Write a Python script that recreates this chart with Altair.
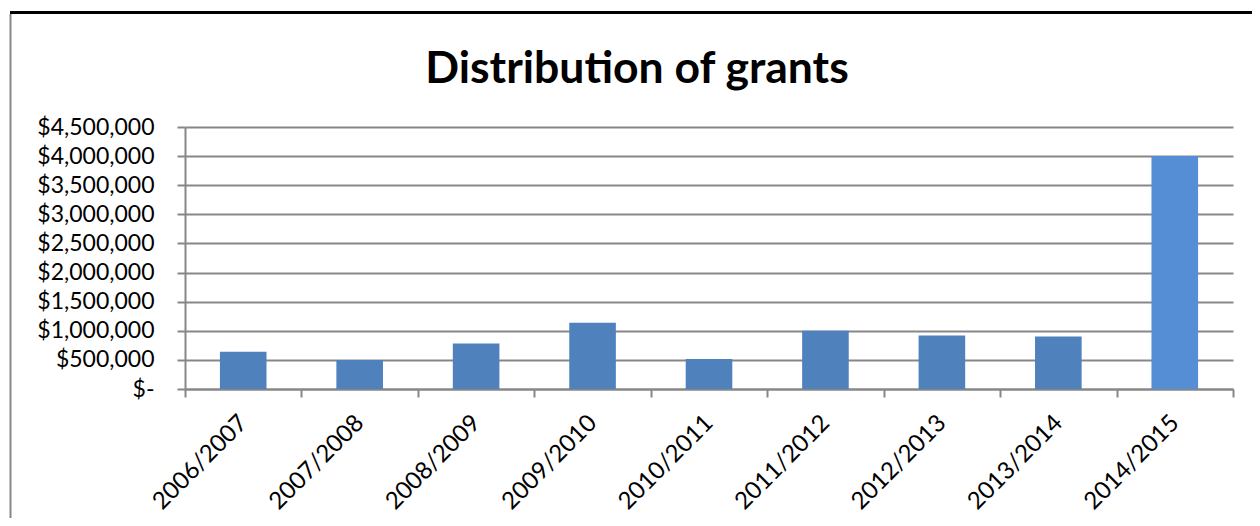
import altair as alt
import pandas as pd

years = ["2006/2007", "2007/2008", "2008/2009", "2009/2010", "2010/2011",
         "2011/2012", "2012/2013", "2013/2014", "2014/2015"]
grants = [640000, 500000, 780000, 1140000, 515000, 1000000, 920000, 900000, 4000000]
y_ticks = [0, 500000, 1000000, 1500000, 2000000, 2500000, 3000000, 3500000, 4000000, 4500000]
title_text = "Distribution of grants"

df = pd.DataFrame({"year": years, "grant": grants})

FONT = "Lato"
W, H = 1048, 262

bars = alt.Chart(df).mark_bar(size=46.6).encode(
    x=alt.X("year:N", sort=years, title=None,
            scale=alt.Scale(paddingInner=0, paddingOuter=0),
            axis=alt.Axis(labelAngle=-45, labelAlign="right", labelBaseline="middle",
                          labelPadding=22, labelFontSize=24, labelFont=FONT,
                          labelColor="#000000", tickBand="extent", tickSize=8,
                          tickColor="#878787", tickWidth=2, domainColor="#878787",
                          domainWidth=2, grid=False)),
    y=alt.Y("grant:Q", title=None,
            scale=alt.Scale(domain=[0, 4500000], nice=False),
            axis=alt.Axis(values=y_ticks, labelFontSize=23, labelFont=FONT,
                          labelColor="#000000", labelPadding=23, tickSize=8,
                          tickColor="#878787", tickWidth=2, domainColor="#878787",
                          domainWidth=2, gridColor="#878787", gridWidth=2,
                          labelExpr="datum.value == 0 ? '$-\u00a0\u00a0' : '$' + format(datum.value, ',')")),
    color=alt.condition(alt.datum.year == "2014/2015", alt.value("#558ED5"), alt.value("#4F81BD")),
)

frame_df = pd.DataFrame({"k": [0]})
top_line = alt.Chart(frame_df).mark_rule(color="#000000", strokeWidth=3).encode(
    x=alt.value(-175), x2=alt.value(1075), y=alt.value(-114.5))
left_line = alt.Chart(frame_df).mark_rule(color="#878787", strokeWidth=2).encode(
    x=alt.value(-174.5), y=alt.value(-113), y2=alt.value(400))
title = alt.Chart(frame_df).mark_text(
    font=FONT, fontSize=44.5, fontWeight="bold", color="#000000",
    align="center", baseline="alphabetic").encode(
    x=alt.value(452), y=alt.value(-44), text=alt.value(title_text))

chart = alt.layer(bars, top_line, left_line, title).properties(
    width=W, height=H,
    autosize=alt.AutoSizeParams(type="none"),
    padding={"left": 177, "top": 119, "right": 19, "bottom": 129},
).configure_view(stroke=None)

chart.save("out.html", embed_options={"renderer": "svg", "actions": False})
